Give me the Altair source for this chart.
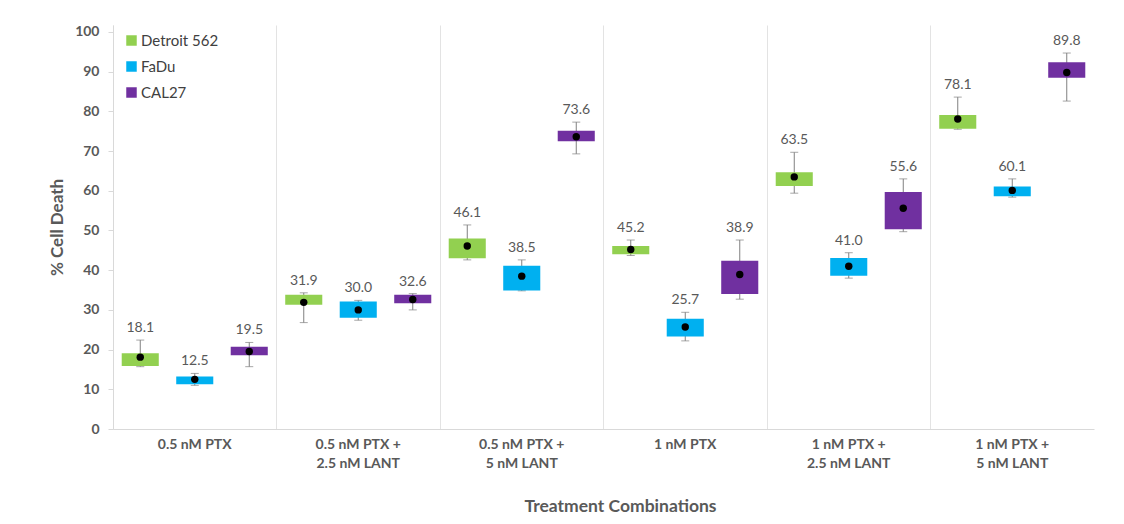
import altair as alt
import pandas as pd

categories = [
    "0.5 nM PTX",
    "0.5 nM PTX +\n2.5 nM LANT",
    "0.5 nM PTX +\n5 nM LANT",
    "1 nM PTX",
    "1 nM  PTX  +\n2.5 nM LANT",
    "1 nM PTX  +\n5 nM LANT",
]
cell_lines = ["Detroit 562", "FaDu", "CAL27"]
colors = ["#92D050", "#00B0F0", "#7030A0"]

# per cell line, per treatment
means = {
    "Detroit 562": [18.1, 31.9, 46.1, 45.2, 63.5, 78.1],
    "FaDu": [12.5, 30.0, 38.5, 25.7, 41.0, 60.1],
    "CAL27": [19.5, 32.6, 73.6, 38.9, 55.6, 89.8],
}
q1 = {
    "Detroit 562": [15.9, 31.3, 43.0, 44.0, 61.2, 75.6],
    "FaDu": [11.3, 28.0, 34.9, 23.3, 38.6, 58.6],
    "CAL27": [18.6, 31.7, 72.5, 34.0, 50.3, 88.5],
}
q3 = {
    "Detroit 562": [19.1, 33.8, 48.0, 46.1, 64.7, 79.1],
    "FaDu": [13.2, 32.1, 41.1, 27.8, 43.1, 61.1],
    "CAL27": [20.7, 33.8, 75.1, 42.4, 59.7, 92.4],
}
lows = {
    "Detroit 562": [15.7, 26.8, 42.6, 43.7, 59.4, 75.5],
    "FaDu": [11.0, 27.4, 34.8, 22.2, 38.0, 58.4],
    "CAL27": [15.7, 30.0, 69.3, 32.7, 49.7, 82.6],
}
highs = {
    "Detroit 562": [22.4, 34.3, 51.4, 47.6, 69.7, 83.6],
    "FaDu": [14.0, 32.4, 42.6, 29.4, 44.4, 63.0],
    "CAL27": [21.8, 34.1, 77.3, 47.6, 63.0, 94.7],
}

rows = []
for line in cell_lines:
    for i, cat in enumerate(categories):
        rows.append({
            "treatment": cat,
            "line": line,
            "mean": means[line][i],
            "q1": q1[line][i],
            "q3": q3[line][i],
            "lo": lows[line][i],
            "hi": highs[line][i],
        })
df = pd.DataFrame(rows)

FONT = "Lato"
GRAY = "#595959"
LIGHT = "#d9d9d9"

y_scale = alt.Scale(domain=[0, 101.76], nice=False, zero=True)
y_axis = alt.Axis(
    title="% Cell Death",
    values=list(range(0, 101, 10)),
    labelFont=FONT,
    labelFontSize=14,
    labelFontWeight="bold",
    labelColor=GRAY,
    labelPadding=9,
    tickColor=LIGHT,
    tickSize=5,
    domainColor=LIGHT,
    grid=False,
    titleFont=FONT,
    titleFontSize=17,
    titleFontWeight="bold",
    titleColor=GRAY,
    titlePadding=8,
)


def Y(field):
    return alt.Y(field, scale=y_scale, axis=y_axis, title="% Cell Death")


x_enc = alt.X(
    "treatment:N",
    sort=categories,
    scale=alt.Scale(paddingInner=0, paddingOuter=0),
    axis=alt.Axis(
        title="Treatment Combinations",
        labelExpr="split(datum.label, '\\n')",
        labelAngle=0,
        labelFont=FONT,
        labelFontSize=14,
        labelFontWeight="bold",
        labelColor=GRAY,
        labelLineHeight=19,
        labelPadding=8,
        ticks=False,
        domainColor=LIGHT,
        grid=True,
        gridColor="#e3e3e3",
        bandPosition=0,
        titleFont=FONT,
        titleFontSize=17.5,
        titleFontWeight="bold",
        titleColor=GRAY,
        titlePadding=27,
        titleX=507,
        titleAlign="center",
    ),
)
xoff_enc = alt.XOffset(
    "line:N", sort=cell_lines,
    scale=alt.Scale(paddingInner=0.32, paddingOuter=0.16),
)

base = alt.Chart(df).encode(x=x_enc, xOffset=xoff_enc)

whisker = base.mark_rule(color="#808080", strokeWidth=1).encode(
    y=Y("lo:Q"), y2="hi:Q"
)
cap_hi = base.mark_tick(color="#808080", size=8, thickness=1).encode(y=Y("hi:Q"))
cap_lo = base.mark_tick(color="#808080", size=8, thickness=1).encode(y=Y("lo:Q"))

boxes = base.mark_bar().encode(
    y=Y("q1:Q"),
    y2="q3:Q",
    color=alt.Color(
        "line:N",
        sort=cell_lines,
        scale=alt.Scale(domain=cell_lines, range=colors),
        legend=alt.Legend(
            title=None,
            orient="none",
            legendX=11,
            legendY=8,
            symbolType="square",
            symbolSize=110,
            symbolStrokeWidth=0,
            labelFont=FONT,
            labelFontSize=15,
            labelColor="#404040",
            rowPadding=10,
            labelOffset=2,
        ),
    ),
)

dots = base.mark_point(filled=True, color="black", size=55, opacity=1).encode(y=Y("mean:Q"))

labels = base.mark_text(
    baseline="bottom", dy=-5, fontSize=14, font=FONT, color=GRAY
).encode(
    y=Y("hi:Q"),
    text=alt.Text("mean:Q", format=".1f"),
)

chart = alt.layer(whisker, cap_hi, cap_lo, boxes, dots, labels).properties(
    width=981,
    height=404,
    padding={"left": 105, "top": 17, "right": 20, "bottom": 90},
    autosize=alt.AutoSizeParams(type="none"),
    background="white",
).configure_view(stroke=None)

chart.save("out.html", embed_options={"renderer": "svg", "actions": False})
